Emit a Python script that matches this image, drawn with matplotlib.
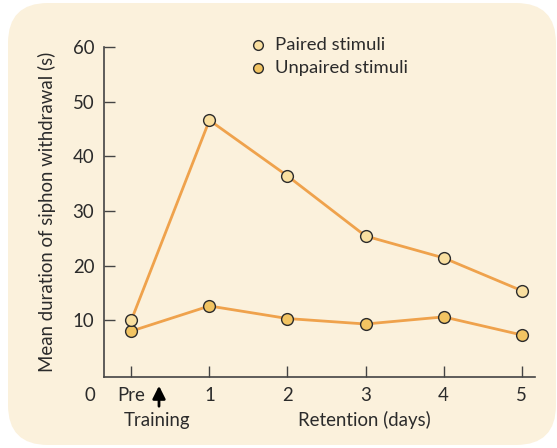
import matplotlib.pyplot as plt
from matplotlib.patches import FancyBboxPatch

# data
days = [0, 1, 2, 3, 4, 5]
tick_labels = ['Pre', '1', '2', '3', '4', '5']
paired = [10.0, 46.6, 36.4, 25.4, 21.4, 15.4]
unpaired = [8.0, 12.6, 10.3, 9.3, 10.6, 7.3]

plt.rcParams['font.family'] = ['Lato', 'DejaVu Sans']
fs = 13.4
ink = '#2b2b2b'
line_col = '#efa24c'

fig = plt.figure(figsize=(5.57, 4.48), dpi=100)
fig.patch.set_facecolor('white')

#Rounded beige panel#
panel = FancyBboxPatch((8, 3), 548, 442, boxstyle='round,pad=0,rounding_size=40',
                       transform=None, facecolor='#fbf1dc', edgecolor='none', zorder=0)
fig.add_artist(panel)

ax = fig.add_axes([104/557, 1-377/448, (535-104)/557, (377-47)/448])
ax.set_facecolor('none')

ax.plot(days, paired, color=line_col, lw=2, zorder=2)
ax.plot(days, unpaired, color=line_col, lw=2, zorder=2)
ax.scatter(days, unpaired, s=72, facecolor='#f2c462', edgecolor=ink, lw=1, zorder=3)
ax.scatter(days, paired, s=72, facecolor='#f9dfa0', edgecolor=ink, lw=1, zorder=4)

ax.set_xlim(-0.35, 5.17)
ax.set_ylim(-0.4, 60)
ax.set_xticks(days)
ax.set_xticklabels(tick_labels)
ax.set_yticks([10, 20, 30, 40, 50, 60])
ax.tick_params(direction='in', length=8, width=1, color='#444444', labelsize=fs,
               labelcolor=ink, pad=7)
ax.tick_params(axis='y', pad=7)
for s in ['top', 'right']:
    ax.spines[s].set_visible(False)
for s in ['left', 'bottom']:
    ax.spines[s].set_color('#444444')
    ax.spines[s].set_linewidth(1.2)

ax.set_ylabel('Mean duration of siphon withdrawal (s)', fontsize=fs, color=ink, labelpad=12)

#Origin label, training arrow and x labels#
fig.text(90/557, 1-395/448, '0', fontsize=fs, color=ink, ha='center', va='center')
ax.annotate('', xy=(159/557, 1-383/448), xytext=(159/557, 1-409/448),
            xycoords='figure fraction',
            arrowprops=dict(arrowstyle='-|>', color='black', lw=2, mutation_scale=19))
fig.text(157/557, 1-420/448, 'Training', fontsize=fs, color=ink, ha='center', va='center')
fig.text(364/557, 1-420/448, 'Retention (days)', fontsize=fs, color=ink, ha='center', va='center')

#Legend#
fig.add_artist(plt.Line2D([258/557], [1-45/448], marker='o', ms=7, mfc='#f9dfa0',
                          mec=ink, mew=1, ls='none'))
fig.add_artist(plt.Line2D([258/557], [1-68/448], marker='o', ms=7, mfc='#f2c462',
                          mec=ink, mew=1, ls='none'))
fig.text(275/557, 1-45/448, 'Paired stimuli', fontsize=13.3, color=ink, va='center')
fig.text(275/557, 1-68/448, 'Unpaired stimuli', fontsize=13.3, color=ink, va='center')

plt.savefig('out.png', dpi=100, facecolor='white')
